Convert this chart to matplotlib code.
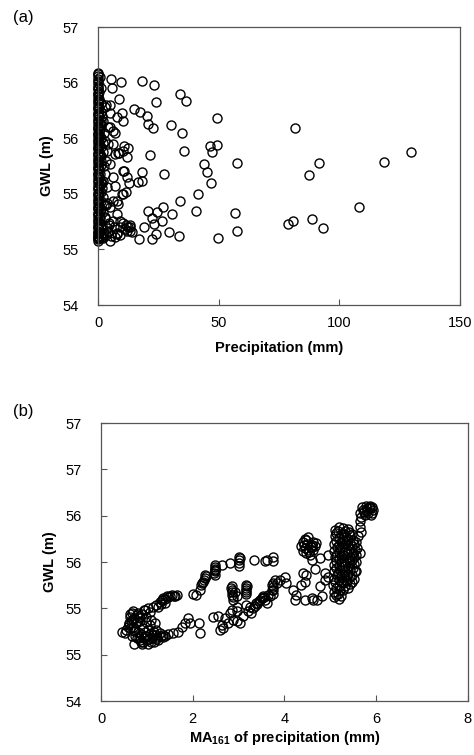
import numpy as np
import matplotlib
matplotlib.use("Agg")
import matplotlib.pyplot as plt
from matplotlib.ticker import FuncFormatter, MultipleLocator

plt.rcParams['font.family'] = ['Liberation Sans', 'DejaVu Sans']
plt.rcParams['mathtext.fontset'] = 'custom'
plt.rcParams['mathtext.rm'] = 'Liberation Sans'
plt.rcParams['mathtext.bf'] = 'Liberation Sans:bold'

# ---- panel (a): daily precipitation vs GWL ----
# dense column of dry days (precip = 0)
dry_gwl = [54.58, 54.60, 54.62, 54.64, 54.66, 54.69, 54.71, 54.74, 54.77, 54.80,
           54.83, 54.86, 54.89, 54.92, 54.95, 54.98, 55.01, 55.04, 55.07, 55.10,
           55.13, 55.16, 55.19, 55.22, 55.25, 55.28, 55.31, 55.34, 55.37, 55.40,
           55.43, 55.46, 55.49, 55.52, 55.55, 55.58, 55.61, 55.64, 55.67, 55.70,
           55.73, 55.76, 55.79, 55.82, 55.85, 55.88, 55.91, 55.94, 55.97, 56.00,
           56.03, 56.06, 56.09, 54.59, 54.615, 54.655, 54.70, 54.755, 54.815,
           54.875, 54.935, 54.995, 55.055, 55.115, 55.175, 55.235, 55.295,
           55.355, 55.415, 55.475, 55.535, 55.595, 55.655, 55.715, 55.775,
           55.835, 55.895, 55.955, 56.015, 56.075]

# near-zero rain days hugging the column
small_mm = [0.5, 0.6, 0.4, 0.7, 0.5, 0.6, 0.4, 0.8, 0.5, 0.6,
            0.4, 0.7, 0.5, 0.6, 0.5, 0.7, 0.4, 0.6, 0.5, 0.6,
            1.1, 1.3, 1.0, 1.2, 1.4, 1.1, 1.3, 1.0, 1.2, 1.1,
            1.3, 1.2, 1.0, 1.4, 1.1, 1.2,
            1.9, 2.3, 1.7, 2.0, 2.4, 1.8, 2.2, 2.6, 1.9, 2.1,
            2.5, 1.8, 3.2, 3.6, 3.0, 3.8, 3.4, 4.2, 4.6, 4.0]
small_gwl = [54.60, 54.66, 54.73, 54.80, 54.87, 54.94, 55.01, 55.08, 55.15, 55.22,
             55.29, 55.36, 55.43, 55.50, 55.57, 55.64, 55.71, 55.78, 55.85, 55.92,
             54.62, 54.70, 54.78, 54.86, 54.94, 55.02, 55.10, 55.18, 55.26, 55.34,
             55.42, 55.50, 55.58, 55.66, 55.74, 55.82,
             54.60, 54.65, 54.72, 54.84, 54.90, 55.05, 55.12, 55.25, 55.38, 55.46,
             55.55, 55.70, 54.63, 54.69, 54.78, 54.92, 55.30, 54.66, 54.72, 55.45]

# rainy days
rain_mm = [5.4, 9.5, 18.2, 23.3, 34.1, 36.5, 23.9, 8.8, 5.0, 14.9,
           17.5, 20.3, 20.9, 22.8, 30.2, 34.7, 49.3, 81.8, 10.8, 12.6,
           8.1, 21.4, 35.5, 46.3, 49.3, 47.4, 129.8, 118.6, 91.6, 57.7,
           43.9, 45.0, 46.8, 27.3, 18.2, 10.9, 18.3, 16.5, 12.8, 11.4,
           10.4, 7.0, 87.6, 41.6, 33.8, 26.8, 30.8, 40.5, 56.9, 108.3,
           80.9, 78.8, 88.8, 93.1, 57.7, 49.9, 33.7, 29.5, 16.8, 22.4,
           24.0, 20.9, 24.4, 22.3, 26.4, 23.0, 19.1, 13.3, 13.3, 7.7,
           6.4, 8.4, 9.1, 7.7, 5.0,
           2.9, 5.0, 7.7, 9.9, 10.4, 2.1, 4.1, 6.2, 2.9, 3.7,
           7.0, 10.4, 12.0, 5.0, 2.9, 6.2, 10.4, 12.0, 3.7, 9.9,
           2.1, 7.7, 5.0, 2.9, 6.2, 9.1, 12.0, 4.1, 7.0, 1.7,
           13.3, 10.4, 1.2, 1.0, 1.5, 0.8, 1.3, 1.8, 1.1, 0.9,
           5.5, 8.0, 11.0, 6.8, 4.5, 9.0, 3.5, 6.0, 8.5, 11.5,
           4.8, 7.2, 3.3, 5.8, 14.0, 12.5]
rain_gwl = [56.03, 56.01, 56.02, 55.98, 55.90, 55.84, 55.83, 55.85, 55.80, 55.76,
            55.74, 55.70, 55.63, 55.59, 55.62, 55.55, 55.68, 55.59, 55.43, 55.41,
            55.37, 55.35, 55.39, 55.43, 55.44, 55.38, 55.38, 55.29, 55.28, 55.28,
            55.27, 55.20, 55.10, 55.18, 55.20, 55.21, 55.12, 55.11, 55.10, 55.02,
            55.00, 55.07, 55.17, 55.00, 54.94, 54.88, 54.82, 54.85, 54.83, 54.88,
            54.76, 54.73, 54.77, 54.69, 54.67, 54.60, 54.62, 54.66, 54.59, 54.59,
            54.64, 54.85, 54.84, 54.78, 54.76, 54.73, 54.70, 54.72, 54.67, 54.82,
            54.94, 54.91, 54.76, 54.64, 54.58,
            55.78, 55.73, 55.69, 55.73, 55.66, 55.66, 55.60, 55.57, 55.48, 55.39,
            55.36, 55.39, 55.33, 55.27, 55.18, 55.15, 55.21, 55.15, 55.06, 55.00,
            54.97, 54.94, 54.88, 54.79, 54.76, 54.70, 54.67, 54.67, 54.61, 54.61,
            54.70, 54.74, 55.95, 55.52, 55.10, 54.85, 55.30, 54.65, 55.62, 56.05,
            54.62, 54.65, 54.68, 54.70, 54.74, 54.63, 54.90, 55.45, 55.37, 54.72,
            55.60, 55.55, 55.80, 55.95, 54.66, 54.70]

# ---- panel (b): MA161 of precipitation vs GWL ----
ma_low = [0.45, 0.52, 0.60, 0.63, 0.67, 0.70, 0.78, 0.63, 0.74, 0.78,
          0.85, 0.92, 1.03, 1.10, 1.14, 1.21, 1.18, 1.10, 0.99, 0.96,
          1.03, 1.14, 0.85, 0.92, 0.81, 1.03, 1.21, 1.28, 0.70, 0.88,
          0.95, 1.00, 0.58, 0.72, 1.06, 1.25, 0.68, 0.98, 1.16, 0.80,
          0.66, 0.69, 0.73, 0.76, 0.64, 0.71, 0.75, 0.83, 0.87, 0.90,
          0.94, 0.97, 1.01, 1.05, 1.08, 1.12, 0.86, 0.90, 0.79, 0.82,
          1.15, 1.19, 1.23, 1.31, 1.35, 1.40, 0.55, 0.62, 1.07, 0.93]
gwl_low = [54.75, 54.73, 54.84, 54.91, 54.95, 54.97, 54.93, 54.79, 54.77, 54.68,
           54.66, 54.64, 54.62, 54.64, 54.71, 54.77, 54.84, 54.88, 54.91, 54.98,
           55.00, 55.02, 54.86, 54.79, 54.75, 54.77, 54.71, 54.73, 54.88, 54.72,
           54.70, 54.66, 54.80, 54.62, 54.82, 54.66, 54.70, 54.85, 54.74, 54.95,
           54.86, 54.80, 54.90, 54.84, 54.94, 54.76, 54.70, 54.68, 54.64, 54.62,
           54.68, 54.75, 54.70, 54.67, 54.73, 54.68, 54.90, 54.94, 54.86, 54.91,
           54.64, 54.67, 54.69, 54.70, 54.69, 54.70, 54.77, 54.83, 54.96, 54.98]

ma_path = [1.21, 1.28, 1.36, 1.43, 1.50, 1.59, 1.39, 1.66, 1.32,
           1.36, 1.47, 1.58, 1.68, 1.76, 1.83, 1.90, 1.94, 2.14, 2.16,
           2.01, 2.08, 2.16, 2.19, 2.23, 2.26, 2.26, 2.48, 2.48, 2.48,
           2.48, 2.63, 2.81, 3.01, 3.01, 3.01, 3.33, 3.57, 3.61, 3.75, 3.75,
           2.45, 2.56, 2.63, 2.59, 2.67, 2.78, 2.81, 2.85, 2.96, 2.96,
           2.88, 2.96, 3.03, 2.85, 2.85, 2.88, 2.96, 2.92, 3.17, 3.17,
           3.17, 3.17, 3.21, 3.28, 3.32, 3.39, 3.46, 3.54, 3.57, 3.61,
           3.68, 3.75, 3.75, 3.79, 3.83, 3.90, 4.01, 4.04, 4.19, 4.23,
           4.26, 4.37, 4.41, 4.48, 4.45, 4.45, 4.62, 4.81, 4.77, 4.88,
           4.88, 4.95, 4.70, 4.59, 3.10, 3.25, 3.50, 3.65, 3.72, 2.70,
           1.25, 1.30, 1.33, 1.40, 1.45, 1.55, 1.62, 2.48, 2.49, 2.47,
           2.85, 2.86, 2.87, 2.84, 3.17, 3.18, 3.16, 3.00, 3.02, 3.73,
           3.74, 3.76, 2.20, 2.24, 2.28, 3.45, 3.50, 3.55, 3.40, 3.35]
gwl_path = [55.04, 55.07, 55.11, 55.13, 55.13, 55.13, 55.06, 55.15, 55.09,
            54.71, 54.72, 54.73, 54.75, 54.80, 54.84, 54.90, 54.84, 54.84, 54.73,
            55.16, 55.15, 55.20, 55.25, 55.29, 55.33, 55.36, 55.43, 55.47, 55.40,
            55.36, 55.47, 55.49, 55.52, 55.49, 55.56, 55.52, 55.51, 55.52, 55.56, 55.51,
            54.91, 54.92, 54.82, 54.77, 54.79, 54.84, 54.95, 54.98, 55.02, 54.97,
            54.88, 54.86, 54.84, 55.20, 55.15, 55.09, 55.13, 55.18, 55.25, 55.22,
            55.16, 55.04, 54.97, 54.95, 55.00, 55.06, 55.09, 55.13, 55.09, 55.06,
            55.13, 55.16, 55.27, 55.31, 55.27, 55.31, 55.34, 55.27, 55.20, 55.09,
            55.15, 55.25, 55.38, 55.36, 55.29, 55.09, 55.09, 55.13, 55.24, 55.31,
            55.38, 55.34, 55.09, 55.11, 54.92, 55.01, 55.11, 55.15, 55.20, 54.90,
            55.02, 55.05, 55.09, 55.10, 55.12, 55.14, 55.13, 55.45, 55.41, 55.38,
            55.24, 55.18, 55.12, 55.22, 55.20, 55.24, 55.18, 55.46, 55.54, 55.25,
            55.20, 55.23, 55.27, 55.31, 55.35, 55.08, 55.11, 55.12, 55.05, 55.03]

ma_high = [4.41, 4.48, 4.37, 4.45, 4.52, 4.59, 4.62, 4.66, 4.55, 4.59,
           4.66, 4.77, 4.95, 4.42, 4.50, 4.57, 4.63, 4.40, 4.47, 4.54,
           4.61, 4.68, 4.44, 4.51,
           5.68, 5.64, 5.64, 5.68, 5.60, 5.64,
           5.64, 5.71, 5.79, 5.86, 5.93, 5.82, 5.89, 5.75, 5.84, 5.91,
           5.70, 5.77, 5.87, 5.80, 5.92, 5.73]
gwl_high = [55.72, 55.74, 55.67, 55.65, 55.63, 55.69, 55.63, 55.67, 55.58, 55.52,
            55.43, 55.54, 55.58, 55.69, 55.70, 55.66, 55.72, 55.62, 55.60, 55.61,
            55.66, 55.71, 55.75, 55.77,
            55.99, 55.94, 55.88, 55.83, 55.78, 55.60,
            56.03, 56.06, 56.08, 56.08, 56.06, 56.03, 56.01, 56.01, 56.10, 56.03,
            56.09, 56.11, 56.11, 56.05, 56.09, 56.04]

ma_dense = [5.07, 5.08, 5.06, 5.09, 5.07, 5.08, 5.10, 5.09, 5.08, 5.10, 5.11,
            5.18, 5.17, 5.19, 5.18, 5.17, 5.19, 5.18, 5.20, 5.18, 5.19, 5.17, 5.20,
            5.28, 5.27, 5.29, 5.28, 5.30, 5.27, 5.29, 5.28, 5.30, 5.28,
            5.38, 5.37, 5.39, 5.38, 5.40, 5.37, 5.39, 5.38, 5.40, 5.38,
            5.48, 5.47, 5.49, 5.48, 5.50, 5.47, 5.49, 5.48,
            5.56, 5.57, 5.55, 5.58, 5.56,
            5.12, 5.13, 5.11, 5.14, 5.12, 5.13, 5.12, 5.14, 5.13, 5.12,
            5.23, 5.22, 5.24, 5.23, 5.22, 5.24, 5.23, 5.22, 5.24, 5.23,
            5.33, 5.34, 5.32, 5.33, 5.34, 5.33, 5.32, 5.34, 5.33,
            5.43, 5.44, 5.42, 5.43, 5.44, 5.43, 5.42, 5.44,
            5.52, 5.53, 5.51, 5.52, 5.53, 5.52]
gwl_dense = [55.12, 55.18, 55.25, 55.32, 55.40, 55.47, 55.55, 55.62, 55.70, 55.78, 55.85,
             55.10, 55.16, 55.24, 55.31, 55.38, 55.46, 55.53, 55.61, 55.69, 55.76, 55.84, 55.88,
             55.20, 55.27, 55.35, 55.42, 55.50, 55.58, 55.66, 55.73, 55.80, 55.87,
             55.22, 55.30, 55.37, 55.45, 55.52, 55.60, 55.68, 55.75, 55.82, 55.86,
             55.28, 55.36, 55.44, 55.52, 55.60, 55.67, 55.74, 55.80,
             55.40, 55.50, 55.58, 55.65, 55.72,
             55.15, 55.22, 55.29, 55.36, 55.44, 55.51, 55.58, 55.66, 55.73, 55.81,
             55.13, 55.20, 55.28, 55.35, 55.42, 55.50, 55.57, 55.65, 55.72, 55.80,
             55.24, 55.31, 55.39, 55.46, 55.54, 55.62, 55.70, 55.77, 55.84,
             55.26, 55.34, 55.41, 55.49, 55.56, 55.64, 55.71, 55.79,
             55.32, 55.40, 55.48, 55.56, 55.63, 55.70]


def excel_int(v, pos):
    return str(int(np.floor(v + 0.5 + 1e-9)))


def style_axes(ax):
    for s in ax.spines.values():
        s.set_color('#555555')
        s.set_linewidth(0.9)
    ax.tick_params(direction='in', length=4, width=0.8, color='#555555',
                   labelsize=10.5, top=False, right=False)
    ax.tick_params(axis='y', pad=14)
    ax.tick_params(axis='x', pad=8)
    ax.yaxis.set_major_formatter(FuncFormatter(excel_int))


mk = dict(marker='o', linestyle='none', markersize=6.5, markerfacecolor='none',
          markeredgecolor='black', markeredgewidth=1.0, clip_on=False)

fig = plt.figure(figsize=(4.74, 7.55), dpi=100)

ax1 = fig.add_axes([0.2068, 0.596, 0.7637, 0.368])
ax1.plot(np.zeros(len(dry_gwl)), dry_gwl, **mk)
ax1.plot(small_mm, small_gwl, **mk)
ax1.plot(rain_mm, rain_gwl, **mk)
ax1.set_xlim(0, 150)
ax1.set_ylim(54, 56.5)
ax1.xaxis.set_major_locator(MultipleLocator(50))
ax1.yaxis.set_major_locator(MultipleLocator(0.5))
style_axes(ax1)
ax1.set_xlabel('Precipitation (mm)', fontsize=10.5, fontweight='bold', labelpad=8)
ax1.set_ylabel('GWL (m)', fontsize=10.5, fontweight='bold', labelpad=6)
fig.text(0.027, 0.977, '(a)', fontsize=12, va='center', ha='left')

ax2 = fig.add_axes([0.2131, 0.0715, 0.774, 0.368])
for xs, ys in [(ma_low, gwl_low), (ma_path, gwl_path),
               (ma_high, gwl_high), (ma_dense, gwl_dense)]:
    ax2.plot(xs, ys, **mk)
ax2.set_xlim(0, 8)
ax2.set_ylim(54, 57)
ax2.xaxis.set_major_locator(MultipleLocator(2))
ax2.yaxis.set_major_locator(MultipleLocator(0.5))
style_axes(ax2)
ax2.set_xlabel(r'MA$_{\mathbf{161}}$ of precipitation (mm)', fontsize=10.5,
               fontweight='bold', labelpad=2)
ax2.set_ylabel('GWL (m)', fontsize=10.5, fontweight='bold', labelpad=6)
fig.text(0.027, 0.455, '(b)', fontsize=12, va='center', ha='left')

fig.savefig('out.png', dpi=100)
